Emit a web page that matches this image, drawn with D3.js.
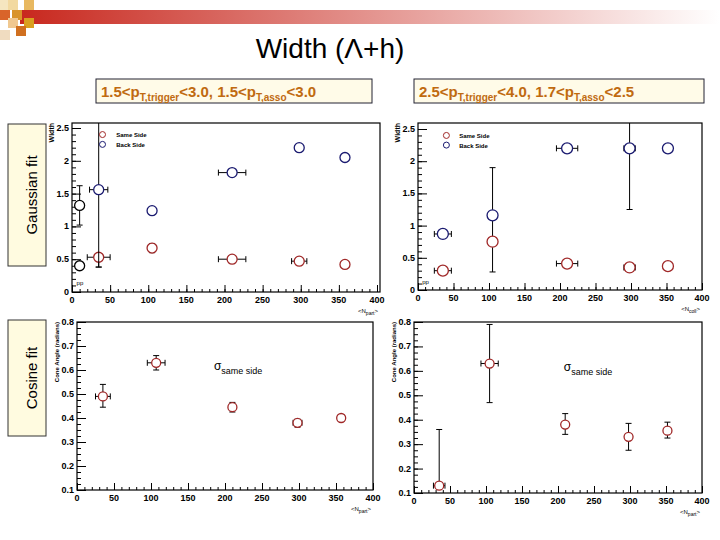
<!DOCTYPE html>
<html><head><meta charset="utf-8">
<script src="https://cdn.jsdelivr.net/npm/d3@7"></script>
<style>body{margin:0;background:#fff}</style>
</head><body><div id="chart"></div>
<script>
// data: [npart, value, yLow, yHigh, xErr]
var g1Same = [[35,0.53,0.38,0.55,15],[105,0.67,0.60,0.74,0],[210,0.50,0.50,0.50,18],[298,0.47,0.47,0.47,10],[358,0.42,0.42,0.42,5]];
var g1Back = [[35,1.56,0.38,2.6,12],[105,1.24,1.24,1.24,0],[210,1.82,1.80,1.84,18],[298,2.20,2.20,2.20,0],[358,2.05,2.03,2.07,0]];
var g1pp = [[10,0.40,0.40,0.40,0],[10,1.32,1.02,1.62,0]];
var g2Same = [[35,0.30,0.30,0.30,12],[105,0.75,0.28,1.90,0],[210,0.41,0.41,0.41,15],[298,0.35,0.35,0.35,8],[352,0.37,0.37,0.37,0]];
var g2Back = [[35,0.87,0.87,0.87,12],[105,1.16,1.16,1.16,0],[210,2.20,2.20,2.20,15],[298,2.20,1.25,2.60,8],[352,2.20,2.20,2.20,0]];
var c1 = [[35,0.49,0.445,0.54,10],[107,0.63,0.60,0.66,12],[210,0.445,0.425,0.465,0],[298,0.38,0.362,0.395,6],[357,0.40,0.39,0.41,4]];
var c2 = [[35,0.13,0.12,0.36,8],[105,0.63,0.47,0.79,12],[210,0.38,0.34,0.425,0],[298,0.33,0.275,0.385,0],[352,0.355,0.325,0.39,4]];
var xTicks = [0,50,100,150,200,250,300,350,400];
var wTicks = [0,0.5,1,1.5,2,2.5];
var cTicks = [0.1,0.2,0.3,0.4,0.5,0.6,0.7,0.8];

var svg = d3.select("#chart").append("svg").attr("width",720).attr("height",540);

// header decoration
var grad = svg.append("defs").append("linearGradient").attr("id","hg");
grad.append("stop").attr("offset","0%").attr("stop-color","#c8281e");
grad.append("stop").attr("offset","100%").attr("stop-color","#fff");
svg.append("rect").attr("x",20).attr("y",10).attr("width",700).attr("height",14).attr("fill","url(#hg)");
[[0,0,"#f5e6c0"],[8,0,"#f2d9a0"],[24,0,"#e8b860"],[0,10,"#d9642a"],[12,10,"#d9942a"],[24,18,"#d9a020"],[8,18,"#f0c890"],[16,26,"#d07020"],[0,30,"#f0dcc0"]]
  .forEach(function(s){ svg.append("rect").attr("x",s[0]).attr("y",s[1]).attr("width",10).attr("height",10).attr("fill",s[2]); });

svg.append("text").attr("x",330).attr("y",58).attr("text-anchor","middle")
  .style("font-family","Liberation Sans, Arial").style("font-size","28px").text("Width (Λ+h)");

function subBox(x, w, a, b, c, d) {
  svg.append("rect").attr("x",x).attr("y",79).attr("width",w).attr("height",24)
    .attr("fill","#fffbe8").attr("stroke","#223").attr("stroke-width",1);
  var t = svg.append("text").attr("x",x+5).attr("y",97).attr("fill","#c06a10")
    .style("font-family","Liberation Sans, Arial").style("font-weight","bold").style("font-size","15px");
  t.append("tspan").text(a+"<p");
  t.append("tspan").attr("dy",4).style("font-size","10px").text("T,trigger");
  t.append("tspan").attr("dy",-4).text(b+", "+c+"<p");
  t.append("tspan").attr("dy",4).style("font-size","10px").text("T,asso");
  t.append("tspan").attr("dy",-4).text(d);
}
subBox(96, 276, "1.5", "<3.0", "1.5", "<3.0");
subBox(414, 290, "2.5", "<4.0", "1.7", "<2.5");

function sideBox(y, h, label) {
  svg.append("rect").attr("x",8).attr("y",y).attr("width",38).attr("height",h)
    .attr("fill","#fffbe0").attr("stroke","#333");
  svg.append("text").attr("transform","translate(37,"+(y+h/2)+") rotate(-90)").attr("text-anchor","middle")
    .style("font-family","Liberation Sans, Arial").style("font-size","15px").text(label);
}
sideBox(124, 142, "Gaussian fit");
sideBox(320, 116, "Cosine fit");

function panel(o) {
  var x = d3.scaleLinear().domain([0,400]).range([o.x0,o.x1]);
  var y = d3.scaleLinear().domain(o.yd).range([o.y0,o.y1]);
  var g = svg.append("g").style("font-family","Liberation Sans, Arial");
  g.append("rect").attr("x",o.x0).attr("y",o.top).attr("width",o.right-o.x0).attr("height",o.y0-o.top)
    .attr("fill","none").attr("stroke","#000").attr("stroke-width",1.2);
  var xa = g.append("g").attr("transform","translate(0,"+o.y0+")")
    .call(d3.axisTop(x).tickValues(xTicks).tickSize(7).tickFormat(""));
  xa.select(".domain").remove();
  g.append("g").attr("transform","translate(0,"+o.y0+")")
    .call(d3.axisTop(x).tickValues(d3.range(10,400,10)).tickSize(3).tickFormat("")).select(".domain").remove();
  g.selectAll(".xl").data(xTicks).enter().append("text").attr("x",function(d){return x(d);}).attr("y",o.y0+11)
    .attr("text-anchor","middle").style("font-size","9px").style("font-weight","bold").text(function(d){return d;});
  var ya = g.append("g").attr("transform","translate("+o.x0+",0)")
    .call(d3.axisRight(y).tickValues(o.yt).tickSize(9).tickFormat(""));
  ya.select(".domain").remove();
  g.append("g").attr("transform","translate("+o.x0+",0)")
    .call(d3.axisRight(y).tickValues(o.ym).tickSize(4).tickFormat("")).select(".domain").remove();
  g.selectAll(".yl").data(o.yt).enter().append("text").attr("x",o.x0-3).attr("y",function(d){return y(d)+3;})
    .attr("text-anchor","end").style("font-size","9px").style("font-weight","bold").text(function(d){return d;});
  g.append("text").attr("transform","translate("+(o.x0-22)+","+o.top+") rotate(-90)").attr("text-anchor","end")
    .attr("dy",4).style("font-size",o.yfs).style("font-weight","bold").text(o.ylab);
  var xl = g.append("text").attr("x",o.right-2).attr("y",o.y0+21).attr("text-anchor","end").style("font-size","6px");
  xl.append("tspan").text("<N");
  xl.append("tspan").attr("dy",2).style("font-size","5px").text(o.sub);
  xl.append("tspan").attr("dy",-2).text(">");
  o.series.forEach(function(s){
    s.data.forEach(function(d){
      var cx = x(d[0]), cy = y(d[1]);
      var eb = g.append("g").attr("stroke","#000").attr("stroke-width",1);
      if (d[3] > d[2]) {
        eb.append("line").attr("x1",cx).attr("x2",cx).attr("y1",y(d[2])).attr("y2",Math.max(y(d[3]),o.top));
        [d[2],d[3]].forEach(function(v){ if (y(v) > o.top) eb.append("line").attr("x1",cx-3).attr("x2",cx+3).attr("y1",y(v)).attr("y2",y(v)); });
      }
      if (d[4] > 0) {
        eb.append("line").attr("x1",x(d[0]-d[4])).attr("x2",x(d[0]+d[4])).attr("y1",cy).attr("y2",cy);
        [d[0]-d[4],d[0]+d[4]].forEach(function(v){ eb.append("line").attr("x1",x(v)).attr("x2",x(v)).attr("y1",cy-3).attr("y2",cy+3); });
      }
      g.append("circle").attr("cx",cx).attr("cy",cy).attr("r",o.r).attr("fill","#fff")
        .attr("stroke",s.color).attr("stroke-width",1.3);
    });
  });
  return {x:x, y:y, g:g};
}

function legend(p, lx) {
  [["Same Side","#a02828",2.4],["Back Side","#1a1a70",2.25]].forEach(function(l){
    p.g.append("circle").attr("cx",p.x(lx)).attr("cy",p.y(l[2])).attr("r",3).attr("fill","none").attr("stroke",l[1]);
    p.g.append("text").attr("x",p.x(lx+18)).attr("y",p.y(l[2])+2.5).style("font-size","6px").style("font-weight","bold").text(l[0]);
  });
  p.g.append("text").attr("x",p.x(6)).attr("y",p.y(0.1)).style("font-size","6px").text("pp");
}

var wMinor = d3.range(0.1,2.6,0.1).map(function(v){return +v.toFixed(1);});
var cMinor = d3.range(0.125,0.8,0.025).map(function(v){return +v.toFixed(3);});

var p1 = panel({x0:72,x1:377,right:380,y0:292,y1:128,top:123,yd:[0,2.5],yt:wTicks,ym:wMinor,ylab:"Width",yfs:"7px",sub:"part",r:5,
  series:[{data:g1pp,color:"#000"},{data:g1Same,color:"#a02828"},{data:g1Back,color:"#1a1a70"}]});
legend(p1, 40);
var p2 = panel({x0:418,x1:702,right:702,y0:290,y1:129,top:123,yd:[0,2.5],yt:wTicks,ym:wMinor,ylab:"Width",yfs:"7px",sub:"coll",r:5.5,
  series:[{data:g2Same,color:"#a02828"},{data:g2Back,color:"#1a1a70"}]});
legend(p2, 40);
p2.g.select("text:last-child");

var p3 = panel({x0:77,x1:373,right:373,y0:490,y1:322,top:322,yd:[0.1,0.8],yt:cTicks,ym:cMinor,ylab:"Cone Angle (radians)",yfs:"6px",sub:"part",r:4.5,
  series:[{data:c1,color:"#a02828"}]});
var p4 = panel({x0:414,x1:702,right:702,y0:493,y1:322,top:322,yd:[0.1,0.8],yt:cTicks,ym:cMinor,ylab:"Cone Angle (radians)",yfs:"6px",sub:"part",r:4.5,
  series:[{data:c2,color:"#a02828"}]});
[[p3,185,0.6],[p4,208,0.6]].forEach(function(q){
  var t = q[0].g.append("text").attr("x",q[0].x(q[1])).attr("y",q[0].y(q[2])).style("font-size","12px").text("σ");
  t.append("tspan").attr("dy",4).style("font-size","9px").text("same side");
});
</script></body></html>
